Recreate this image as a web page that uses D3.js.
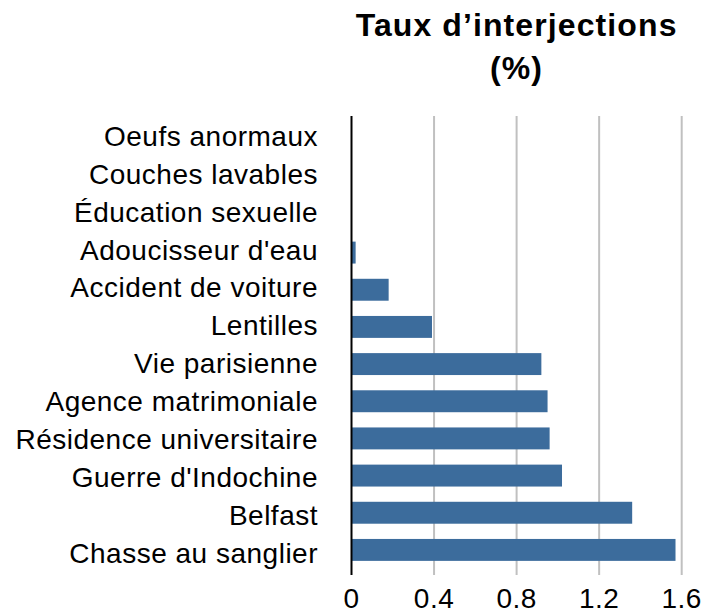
<!DOCTYPE html>
<html><head><meta charset="utf-8">
<script src="https://cdn.jsdelivr.net/npm/d3@7"></script>
<style>body{margin:0;background:#fff}svg{display:block}text{font-family:"Liberation Sans",Arial,Helvetica,sans-serif;fill:#000}</style>
</head><body>
<script>
const categories = ["Oeufs anormaux","Couches lavables","Éducation sexuelle","Adoucisseur d'eau","Accident de voiture","Lentilles","Vie parisienne","Agence matrimoniale","Résidence universitaire","Guerre d'Indochine","Belfast","Chasse au sanglier"];
const values = [0, 0, 0, 0.02, 0.18, 0.39, 0.92, 0.95, 0.96, 1.02, 1.36, 1.57];
const xTicks = [0, 0.4, 0.8, 1.2, 1.6];
const xTickLabels = ["0","0.4","0.8","1.2","1.6"];
const titleLines = ["Taux d’interjections","(%)"];

(function () {
const W = 704, H = 613;
const svg = d3.select("body").append("svg").attr("width", W).attr("height", H);
const pTop = 116, pBottom = 575, pLeft = 351.5, pRight = 681.7;
const x = d3.scaleLinear().domain([0, 1.6]).range([pLeft, pRight]);
const y = d3.scaleBand().domain(categories).range([pTop, pBottom]).paddingInner(0.41).paddingOuter(0.38);
const yLab = d3.scalePoint().domain(categories).range([136, 553]);

svg.append("g").selectAll("line").data(xTicks.filter(d => d > 0)).join("line")
  .attr("x1", d => x(d)).attr("x2", d => x(d)).attr("y1", pTop).attr("y2", pBottom)
  .attr("stroke", "#c0c0c0").attr("stroke-width", 2);

svg.append("g").selectAll("rect").data(categories.map((c, i) => ({c, v: values[i]}))).join("rect")
  .attr("x", x(0)).attr("y", d => y(d.c)).attr("width", d => x(d.v) - x(0)).attr("height", y.bandwidth())
  .attr("fill", "#3c6c9c");

svg.append("line").attr("x1", x(0)).attr("x2", x(0)).attr("y1", pTop).attr("y2", pBottom)
  .attr("stroke", "#000").attr("stroke-width", 2);

svg.append("g").selectAll("text").data(categories).join("text")
  .attr("x", 318).attr("y", d => yLab(d)).attr("dy", "0.35em")
  .attr("text-anchor", "end").attr("font-size", 28).attr("letter-spacing", 0.5).text(d => d);

svg.append("g").selectAll("text").data(xTicks).join("text")
  .attr("x", d => x(d)).attr("y", 608).attr("text-anchor", "middle").attr("font-size", 28)
  .attr("letter-spacing", 0.5).text((d, i) => xTickLabels[i]);

svg.append("g").selectAll("text").data(titleLines).join("text")
  .attr("x", (pLeft + pRight) / 2).attr("y", (d, i) => 36 + i * 43).attr("text-anchor", "middle")
  .attr("font-size", 32).attr("letter-spacing", 1.1).attr("font-weight", "bold").text(d => d);
})();
</script>
</body></html>
